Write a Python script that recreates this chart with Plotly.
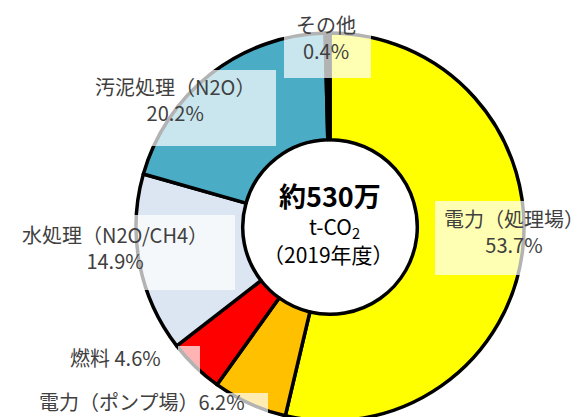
import plotly.graph_objects as go

# CO2 emission breakdown (2019)
categories = ['電力（処理場）', '電力（ポンプ場）', '燃料', '水処理（N2O/CH4）', '汚泥処理（N2O）', 'その他']
shares = [53.7, 6.2, 4.6, 14.9, 20.2, 0.4]
colors = ['#FFFF00', '#FFC000', '#FF0000', '#DCE6F2', '#4BACC6', '#000000']
label_sep = ['<br>', '', ' ', '<br>', '<br>', '<br>']
total_text = '約530万'
unit_text = 't-CO<sub>2</sub>'
year_text = '（2019年度）'

W, H = 582, 417
FONT = 'Noto Sans CJK JP'

def px(x):
    return x / W

def py(y):
    return 1 - y / H

fig = go.Figure(go.Pie(
    labels=categories,
    values=shares,
    sort=False,
    direction='clockwise',
    rotation=0,
    hole=0.45,
    marker=dict(colors=colors, line=dict(color='black', width=3.5)),
    textinfo='none',
    hoverinfo='skip',
    domain=dict(x=[px(128), px(516)], y=[py(413), py(25)]),
))

# label anchor (text centre) and backing box, in pixels
label_pos = [(506, 223), (134, 393), (107, 349), (107, 239), (167, 92), (318, 29)]
boxes = [(427, 193, 518, 267), (173, 385, 260, 417), (170, 338, 192, 380),
         (123, 207, 227, 282), (75, 62, 268, 138), (276, 23, 363, 70)]

shapes = []
for x0, y0, x1, y1 in boxes:
    shapes.append(dict(type='rect', xref='paper', yref='paper',
                       x0=px(x0), x1=px(x1), y0=py(y1), y1=py(y0),
                       fillcolor='rgba(255,255,255,0.7)', line=dict(width=0),
                       layer='above'))

annotations = []
for name, val, sep, (x, y) in zip(categories, shares, label_sep, label_pos):
    annotations.append(dict(text=f'{name}{sep}{val}%', x=px(x), y=py(y),
                            xref='paper', yref='paper', showarrow=False,
                            xanchor='center', yanchor='middle',
                            font=dict(family=FONT, size=20, color='#404040')))

annotations += [
    dict(text=f'<b>{total_text}</b>', x=px(322), y=py(187), xref='paper', yref='paper',
         showarrow=False, font=dict(family=FONT, size=27, color='black')),
    dict(text=unit_text, x=px(326), y=py(219), xref='paper', yref='paper',
         showarrow=False, font=dict(family=FONT, size=21, color='black')),
    dict(text=year_text, x=px(320), y=py(246), xref='paper', yref='paper',
         showarrow=False, font=dict(family=FONT, size=21, color='black')),
]

fig.update_layout(
    width=W, height=H,
    margin=dict(l=0, r=0, t=0, b=0),
    showlegend=False,
    paper_bgcolor='white',
    plot_bgcolor='white',
    shapes=shapes,
    annotations=annotations,
)

fig.write_html("out.html")
